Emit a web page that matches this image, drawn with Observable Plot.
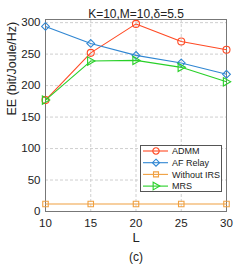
<!DOCTYPE html>
<html>
<head>
<meta charset="utf-8">
<script src="https://cdn.jsdelivr.net/npm/d3@7"></script>
<script src="https://cdn.jsdelivr.net/npm/@observablehq/plot@0.6"></script>
<style>
  html, body { margin: 0; padding: 0; background: #fff; }
  #wrap { position: relative; width: 249px; height: 268px; font-family: "Liberation Sans", Arial, sans-serif; }
  #legend { position: absolute; left: 140px; top: 145px; }
</style>
</head>
<body>
<div id="wrap"><div id="legend"></div></div>
<script>
const L = [10, 15, 20, 25, 30];
const admm = [177, 252, 298, 270, 257];
const afRelay = [294, 267, 248, 236, 218];
const withoutIRS = [12, 12, 12, 12, 12];
const mrs = [177, 239, 240, 229, 206];
const seriesNames = ["ADMM", "AF Relay", "Without IRS", "MRS"];
const seriesColors = ["#ff4a24", "#2f86d2", "#f0a040", "#28d028"];
const yTicks = [0, 50, 100, 150, 200, 250, 300];
const title = "K=10,M=10,δ=5.5";
const xLabel = "L";
const yLabel = "EE (bit/Joule/Hz)";
const caption = "(c)";

const triRight = {
  draw(ctx, size) {
    const r = Math.sqrt(size / 2.2);
    ctx.moveTo(r, 0);
    ctx.lineTo(-r * 0.75, -r);
    ctx.lineTo(-r * 0.75, r);
    ctx.closePath();
  }
};
const symbols = ["circle", "diamond2", "square2", triRight];
const allSeries = [admm, afRelay, withoutIRS, mrs];
const rows = [];
allSeries.forEach((vals, si) => vals.forEach((v, i) => rows.push({L: L[i], v, s: seriesNames[si]})));

const marks = [
  Plot.gridX([15, 20, 25], {stroke: "#cfcfcf", strokeOpacity: 1, strokeDasharray: "3,2"}),
  Plot.gridY(yTicks.slice(1), {stroke: "#cfcfcf", strokeOpacity: 1, strokeDasharray: "3,2"}),
  Plot.frame({stroke: "#777"}),
  Plot.axisX(L, {tickSize: 0, tickPadding: 7, fontSize: 11.5, label: null}),
  Plot.axisY(yTicks, {tickSize: 0, tickPadding: 5, fontSize: 11.5, label: null})
];
seriesNames.forEach((name, si) => {
  const d = rows.filter(r => r.s === name);
  marks.push(Plot.line(d, {x: "L", y: "v", stroke: seriesColors[si], strokeWidth: 1.1}));
  marks.push(Plot.dot(d, {x: "L", y: "v", stroke: seriesColors[si], fill: "none", symbol: () => symbols[si], r: 3.5, strokeWidth: 1.1}));
});
marks.push(Plot.text([title], {frameAnchor: "top", dy: -10, fontSize: 12, fill: "#222"}));
marks.push(Plot.text([xLabel], {frameAnchor: "bottom", dy: 30, fontSize: 13, fill: "#222"}));
marks.push(Plot.text([yLabel], {frameAnchor: "left", dx: -34, rotate: -90, fontSize: 12.5, fill: "#222"}));
marks.push(Plot.text([caption], {frameAnchor: "bottom", dy: 49, fontSize: 12, fill: "#222"}));

const plot = Plot.plot({
  width: 249,
  height: 268,
  marginLeft: 45,
  marginRight: 23,
  marginTop: 19,
  marginBottom: 57,
  style: {fontFamily: "'Liberation Sans', Arial, sans-serif", fontSize: "11.5px", color: "#222", background: "white"},
  x: {domain: [10, 30]},
  y: {domain: [0, 305]},
  symbol: {type: "identity"},
  marks
});
document.getElementById("wrap").prepend(plot);

// legend
const lw = 82, lh = 47;
const svg = d3.select("#legend").append("svg").attr("width", lw).attr("height", lh);
svg.append("rect").attr("x", 0.5).attr("y", 0.5).attr("width", lw - 1).attr("height", lh - 1)
  .attr("fill", "white").attr("stroke", "#555").attr("stroke-width", 1);
seriesNames.forEach((name, i) => {
  const cy = 6 + i * 11.7;
  svg.append("line").attr("x1", 3).attr("x2", 28).attr("y1", cy).attr("y2", cy)
    .attr("stroke", seriesColors[i]).attr("stroke-width", 1.1);
  const sym = typeof symbols[i] === "string"
    ? {circle: d3.symbolCircle, diamond2: d3.symbolDiamond2, square2: d3.symbolSquare2}[symbols[i]]
    : triRight;
  svg.append("path").attr("d", d3.symbol(sym, 32)()).attr("transform", `translate(16,${cy})`)
    .attr("fill", "none").attr("stroke", seriesColors[i]).attr("stroke-width", 1.1);
  svg.append("text").attr("x", 32).attr("y", cy).attr("dy", "0.35em")
    .attr("font-size", 9).attr("fill", "#222").text(name);
});
</script>
</body>
</html>
